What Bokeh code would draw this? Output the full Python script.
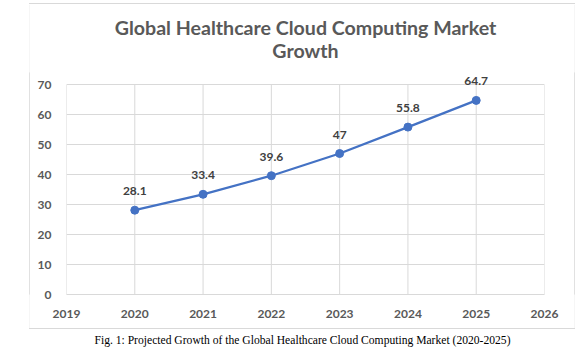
from bokeh.plotting import figure
from bokeh.models import ColumnDataSource, LabelSet, Label, Title, FixedTicker, Range1d, Spacer, Div
from bokeh.layouts import column, row
from bokeh.core.properties import value
from bokeh.embed import file_html
from bokeh.resources import INLINE

years = [2020, 2021, 2022, 2023, 2024, 2025]
market = [28.1, 33.4, 39.6, 47, 55.8, 64.7]
labels = ["28.1", "33.4", "39.6", "47", "55.8", "64.7"]
x_ticks = [2019, 2020, 2021, 2022, 2023, 2024, 2025, 2026]
y_ticks = [0, 10, 20, 30, 40, 50, 60, 70]

title_line1 = "Global Healthcare Cloud Computing Market"
title_line2 = "Growth"
caption = "Fig. 1: Projected Growth of the Global Healthcare Cloud Computing Market (2020-2025)"

src = ColumnDataSource(dict(x=years, y=market, t=labels))
grid_src = ColumnDataSource(dict(x=x_ticks, y0=[y_ticks[0]] * len(x_ticks),
                                 y1=[y_ticks[-1]] * len(x_ticks)))

FONT = "Lato"
GRID = "#d9d9d9"
BORDER = "#d9d9d9"

p = figure(width=544, height=324, output_backend="svg", toolbar_location=None,
           title=None, x_range=Range1d(x_ticks[0], x_ticks[-1]),
           y_range=Range1d(y_ticks[0], y_ticks[-1] + 4),
           min_border_left=36, min_border_right=30, min_border_bottom=34,
           min_border_top=0, outline_line_color=None)


def filler(standoff):
    return Title(text=".", text_font_size="2px", text_color="#ffffff", standoff=standoff)


# stacked outward from the frame: gap, line 2, line 1, top gap
p.add_layout(filler(9.1), "above")
p.add_layout(Title(text=title_line2, align="center", text_font=FONT, text_font_size="19.6px",
                   text_font_style="bold", text_color="#595959", standoff=-2.5, offset=-2.5), "above")
p.add_layout(Title(text=title_line1, align="center", text_font=FONT, text_font_size="19.6px",
                   text_font_style="bold", text_color="#595959", standoff=-2.5, offset=-2.5), "above")
p.add_layout(filler(7.1), "above")

p.segment(x0="x", y0="y0", x1="x", y1="y1", source=grid_src,
          line_color=GRID, line_width=1, level="underlay")

p.line("x", "y", source=src, line_color="#4472C4", line_width=2.25)
p.scatter("x", "y", source=src, size=8, fill_color="#4472C4", line_color="#4472C4")

p.add_layout(LabelSet(x="x", y="y", text="t", source=src, y_offset=15,
                      text_align="center", text_baseline="bottom",
                      text_font=value(FONT), text_font_size=value("12px"),
                      text_font_style="bold", text_color="#404040"))

p.xaxis.ticker = FixedTicker(ticks=x_ticks)
p.yaxis.ticker = FixedTicker(ticks=y_ticks)
for ax in (p.xaxis, p.yaxis):
    ax.major_tick_line_color = None
    ax.minor_tick_line_color = None
    ax.major_label_text_font = FONT
    ax.major_label_text_font_size = "12px"
    ax.major_label_text_font_style = "bold"
    ax.major_label_text_color = "#595959"
p.xaxis.axis_line_color = GRID
p.yaxis.axis_line_color = None
p.xaxis.major_label_standoff = 9
p.yaxis.major_label_standoff = 9
p.xgrid.grid_line_color = None
p.ygrid.grid_line_color = GRID


def hbar(w, h):
    return Div(text="", width=w, height=h, margin=0,
               styles={"background-color": BORDER, "width": f"{w}px", "height": f"{h}px"})


def vbar(w, h):
    b = figure(width=w, height=h, output_backend="svg", toolbar_location=None,
               x_axis_type=None, y_axis_type=None, min_border=0,
               outline_line_color=None, background_fill_color=BORDER,
               border_fill_color=BORDER, x_range=Range1d(0, 1), y_range=Range1d(0, 1))
    b.grid.visible = False
    b.quad(left=[0], right=[1], bottom=[0], top=[1], fill_color=BORDER, line_color=BORDER)
    return b


box = column(hbar(546, 1), row(vbar(1, 324), p, vbar(1, 324), spacing=0), hbar(546, 1), spacing=0)

cap = figure(width=580, height=22, output_backend="svg", toolbar_location=None,
             x_axis_type=None, y_axis_type=None, min_border=0, outline_line_color=None,
             x_range=Range1d(0, 580), y_range=Range1d(0, 22))
cap.grid.visible = False
cap.add_layout(Label(x=302, y=11, text=caption, text_align="center", text_baseline="middle",
                     text_font="Liberation Serif", text_font_size="11.6px",
                     text_color="#000000"))

layout = column(Spacer(height=3), row(Spacer(width=29), box, spacing=0), cap, spacing=0)
open("out.html", "w").write(file_html(layout, INLINE))
